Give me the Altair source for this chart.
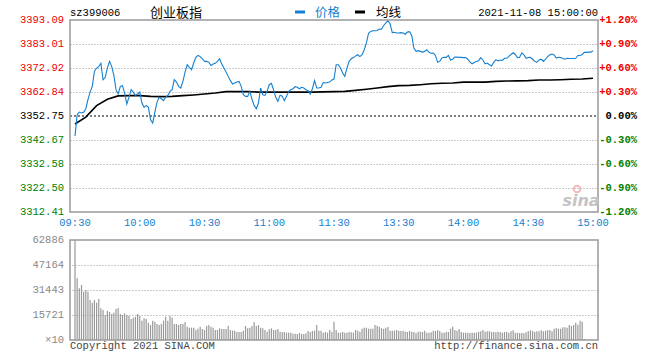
import altair as alt
import pandas as pd

# ---------------- data ----------------
minutes = list(range(241))
prices = [
    3344.3, 3353.3, 3354.4, 3354.0, 3354.3, 3355.8, 3359.6, 3362.8, 3365.2, 3371.5,
    3372.9, 3373.5, 3374.9, 3368.0, 3369.0, 3372.9, 3375.7, 3373.6, 3369.8, 3363.8,
    3362.0, 3365.2, 3365.5, 3362.4, 3357.8, 3360.6, 3363.8, 3362.8, 3361.4, 3362.0,
    3362.8, 3358.2, 3356.4, 3357.2, 3356.4, 3351.2, 3349.8, 3354.4, 3358.6, 3360.6,
    3360.0, 3359.2, 3360.6, 3361.4, 3363.1, 3363.8, 3368.0, 3367.0, 3365.2, 3364.5,
    3367.3, 3371.2, 3374.3, 3373.2, 3372.2, 3375.0, 3377.4, 3378.2, 3377.7, 3376.8,
    3375.7, 3375.7, 3375.4, 3374.0, 3374.6, 3374.9, 3375.7, 3376.8, 3374.6, 3372.9,
    3371.2, 3369.4, 3367.6, 3366.2, 3366.6, 3367.0, 3367.3, 3365.2, 3361.7, 3361.0,
    3361.0, 3363.1, 3359.8, 3357.2, 3355.8, 3358.2, 3364.5, 3361.7, 3361.4, 3363.1,
    3365.9, 3366.5, 3363.8, 3360.6, 3358.9, 3361.5, 3361.1, 3359.2, 3361.0, 3363.1,
    3363.8, 3364.2, 3365.1, 3364.8, 3364.2, 3364.8, 3364.5, 3363.8, 3363.4, 3362.0,
    3364.2, 3367.6, 3364.5, 3364.5, 3364.8, 3366.8, 3366.6, 3366.8, 3367.0, 3367.9,
    3368.3, 3374.3, 3374.3, 3372.9, 3370.8, 3369.4, 3372.9, 3375.7, 3376.8, 3377.3,
    3378.0, 3378.5, 3377.7, 3378.5, 3380.6, 3383.4, 3387.5, 3388.3, 3388.6, 3388.6,
    3388.7, 3389.3, 3389.2, 3390.8, 3391.8, 3392.8, 3391.4, 3387.8, 3387.9, 3387.6,
    3387.6, 3387.8, 3387.6, 3387.1, 3388.0, 3388.2, 3386.6, 3381.3, 3379.9, 3380.2,
    3379.9, 3379.6, 3379.9, 3380.6, 3379.5, 3379.1, 3379.2, 3378.2, 3375.3, 3375.7,
    3377.1, 3377.4, 3377.4, 3378.2, 3376.3, 3376.6, 3377.5, 3377.5, 3377.4, 3377.4,
    3377.3, 3377.3, 3376.6, 3375.4, 3374.7, 3375.2, 3375.7, 3376.0, 3377.3, 3376.3,
    3374.7, 3375.0, 3374.3, 3373.8, 3375.3, 3376.4, 3375.9, 3376.3, 3376.1, 3377.0,
    3377.0, 3377.8, 3378.6, 3379.3, 3378.6, 3377.3, 3377.4, 3379.3, 3378.4, 3377.0,
    3377.3, 3377.4, 3376.6, 3375.7, 3375.3, 3376.3, 3376.6, 3375.7, 3376.6, 3377.7,
    3378.5, 3378.8, 3378.4, 3377.1, 3377.4, 3377.3, 3376.9, 3376.6, 3377.0, 3376.9,
    3376.9, 3376.9, 3377.0, 3378.2, 3378.2, 3378.6, 3379.5, 3379.5, 3379.6, 3379.6,
    3380.2,
]

avg_minutes = list(range(0, 241, 5))
avg_prices = [
    3349.4, 3352.3, 3357.1, 3359.8, 3361.2, 3361.3, 3361.3, 3361.0, 3360.9, 3361.0,
    3361.3, 3361.6, 3362.0, 3362.4, 3363.0, 3363.0, 3363.0, 3362.8, 3362.8, 3362.8,
    3362.8, 3362.8, 3362.8, 3362.9, 3363.0, 3363.1, 3363.5, 3364.0, 3364.5, 3365.1,
    3365.5, 3365.6, 3365.9, 3366.3, 3366.5, 3366.6, 3367.0, 3367.0, 3367.0, 3367.3,
    3367.45, 3367.5, 3367.6, 3367.9, 3367.9, 3368.0, 3368.2, 3368.3, 3368.6,
]

volumes = [62886] + [
    38776, 32488, 34584, 30392, 31440, 30392, 25152, 23475, 25152, 23475,
    25781, 19912, 18864, 15720, 18235, 17606, 16349, 17187, 19493, 20122,
    16349, 15720, 16768, 15720, 15091, 13205, 14043, 14672, 16349, 15091,
    12157, 13624, 13205, 10899, 9432, 12157, 11528, 10061, 9432, 10061,
    12157, 14672, 12157, 15091, 14043, 10061, 10061, 9432, 10061, 10061,
    11318, 8384, 7755, 7755, 7755, 6288, 7126, 8384, 6917, 6288,
    8803, 9432, 8384, 7755, 6288, 6288, 7336, 6917, 6917, 6917,
    8803, 6288, 5869, 5869, 5030, 5030, 5030, 5869, 8803, 7336,
    7755, 8803, 11318, 8803, 9432, 7755, 7336, 6288, 5240, 6707,
    7336, 6288, 6288, 6917, 5240, 5030, 5030, 4611, 4611, 4611,
    3982, 3982, 3773, 4402, 3773, 3773, 4192, 5659, 5030, 5659,
    5869, 9432, 5869, 5869, 4611, 5030, 4611, 6288, 5240,
] + [
    11528, 6288, 4611, 4611, 5030, 4611, 4611, 5030, 4821, 4611,
    6288, 5869, 5240, 7126, 7755, 7755, 7126, 7126, 7126, 9432,
    8803, 8384, 7336, 6917, 7755, 8174, 5869, 5869, 5869, 6288,
    5869, 5659, 5869, 5240, 5030, 5659, 5240, 5030, 4192, 5240,
    5240, 5030, 5869, 4611, 4611, 4821, 5869, 5659, 6078, 5659,
    4611, 4611, 5030, 5030, 7126, 8384, 6288, 5869, 6917, 5030,
    4611, 4611, 4611, 4402, 4611, 4611, 4611, 5240, 5450, 6288,
    5240, 5450, 5450, 5030, 5030, 4821, 5240, 5030, 4611, 5030,
    5030, 4611, 5450, 6078, 4611, 4611, 4402, 4402, 4192, 4821,
    5450, 6078, 5659, 5030, 5450, 5450, 6078, 5450, 5869, 6078,
    6288, 5450, 7126, 7336, 7126, 7126, 7965, 7965, 7755, 9432,
    8803, 9432, 10899, 9642, 12157, 11528, 629,
] + [0, 0, 0, 0]

price_ticks = [3393.09, 3383.01, 3372.92, 3362.84, 3352.75, 3342.67, 3332.58, 3322.50, 3312.41]
pct_labels = ["+1.20%", "+0.90%", "+0.60%", "+0.30%", "0.00%", "-0.30%", "-0.60%", "-0.90%", "-1.20%"]
prev_close = 3352.75
vol_ticks = [62886, 47164, 31443, 15721, 0]
vol_labels = ["62886", "47164", "31443", "15721", "×10"]
time_ticks = [0, 30, 60, 90, 120, 150, 180, 210, 240]
time_labels = ["09:30", "10:00", "10:30", "11:00", "11:30", "13:30", "14:00", "14:30", "15:00"]
grid_price_ticks = [3383.01, 3372.92, 3362.84, 3342.67, 3332.58, 3322.50]
grid_vol_ticks = [47164, 31443, 15721]
grid_time_ticks = [30, 60, 90, 120, 150, 180, 210]

W, H_P, V_TOP, V_BOT = 528, 192, 220, 320
FONT = "Liberation Mono"
BLUE = "#1580d0"
BORDER = "#999999"
GRID = "#999999"

price_df = pd.DataFrame({"m": minutes, "p": prices})
avg_df = pd.DataFrame({"m": avg_minutes, "p": avg_prices})
vol_df = pd.DataFrame({"m": minutes, "v": volumes})
ptick_df = pd.DataFrame({"p": price_ticks, "pct": pct_labels, "lab": [f"{t:.2f}" for t in price_ticks]})
vtick_df = pd.DataFrame({"v": vol_ticks, "lab": vol_labels})
ttick_df = pd.DataFrame({"m": time_ticks, "lab": time_labels})
base_df = pd.DataFrame({"p": [prev_close]})
one = pd.DataFrame({"k": [0]})

xs = alt.Scale(domain=[0, 240], range=[0, W], nice=False, zero=False)
ps = alt.Scale(domain=[price_ticks[-1], price_ticks[0]], range=[H_P, 0], nice=False, zero=False)
vs = alt.Scale(domain=[0, vol_ticks[0]], range=[V_BOT, V_TOP], nice=False, zero=False)

grid_axis = dict(grid=True, gridColor=GRID, gridDash=[1, 2], gridWidth=1, gridOpacity=1,
                 labels=False, ticks=False, domain=False, title=None)

X = lambda: alt.X("m:Q", scale=xs, axis=None)
PY = lambda: alt.Y("p:Q", scale=ps, axis=None)
VY = lambda: alt.Y("v:Q", scale=vs, axis=None)

layers = []

# price line layer carries the x grid and the price y grid (axis grids)
price_layer = alt.Chart(price_df).mark_line(color=BLUE, strokeWidth=1.1).encode(
    x=alt.X("m:Q", scale=xs, axis=alt.Axis(values=grid_time_ticks, orient="bottom", **grid_axis)),
    y=alt.Y("p:Q", scale=ps, axis=alt.Axis(values=grid_price_ticks, orient="left", **grid_axis)),
)
# volume bars carry the volume y grid
vol_layer = alt.Chart(vol_df).mark_bar(color="#999999", size=1.2).encode(
    x=X(),
    y=alt.Y("v:Q", scale=vs, axis=alt.Axis(values=grid_vol_ticks, orient="right", **grid_axis)),
)

# white strip hiding vertical grid between the panels
layers.append(alt.Chart(one).mark_rect(color="#ffffff").encode(
    x=alt.value(-1), x2=alt.value(W + 1), y=alt.value(H_P + 1), y2=alt.value(V_TOP - 1)))

# baseline (previous close)
layers.append(alt.Chart(base_df).mark_rule(color="#000", strokeDash=[2, 2], strokeWidth=1).encode(
    y=PY(), x=alt.value(0), x2=alt.value(W)))

layers.append(vol_layer)
layers.append(alt.Chart(avg_df).mark_line(color="#000000", strokeWidth=1.6).encode(x=X(), y=PY()))
layers.append(price_layer)

# borders
layers.append(alt.Chart(one).mark_rect(fillOpacity=0, stroke=BORDER, strokeWidth=1.5).encode(
    x=alt.value(0), x2=alt.value(W), y=alt.value(0), y2=alt.value(H_P)))
layers.append(alt.Chart(one).mark_rect(fillOpacity=0, stroke=BORDER, strokeWidth=1.5).encode(
    x=alt.value(0), x2=alt.value(W), y=alt.value(V_TOP), y2=alt.value(V_BOT)))

# price labels (left) & pct labels (right)
colexpr = f"datum.p > {prev_close} + 0.01 ? '#ee0000' : (datum.p < {prev_close} - 0.01 ? '#008000' : '#000000')"
layers.append(alt.Chart(ptick_df).transform_calculate(c=colexpr).mark_text(
    align="right", baseline="middle", font=FONT, fontSize=10.5).encode(
    y=PY(), x=alt.value(-6), text="lab:N", color=alt.Color("c:N", scale=None)))
layers.append(alt.Chart(ptick_df).transform_calculate(c=colexpr).mark_text(
    align="right", baseline="middle", font=FONT, fontSize=10.5, fontWeight="bold").encode(
    y=PY(), x=alt.value(567), text="pct:N", color=alt.Color("c:N", scale=None)))

# volume labels
layers.append(alt.Chart(vtick_df).mark_text(align="right", baseline="middle", font=FONT, fontSize=10.5, color="#888888").encode(
    y=VY(), x=alt.value(-6), text="lab:N"))

# time labels
layers.append(alt.Chart(ttick_df).mark_text(align="center", baseline="middle", font=FONT, fontSize=10.5, color=BLUE).encode(
    x=X(), y=alt.value(H_P + 11), text="lab:N"))

# header
def txt(s, x, y, align="left", color="#000", font=FONT, size=10.5, **kw):
    return alt.Chart(one).mark_text(align=align, baseline="middle", font=font, fontSize=size, color=color, **kw).encode(
        x=alt.value(x), y=alt.value(y), text=alt.value(s))

layers.append(txt("sz399006", 0, -7))
layers.append(txt("创业板指", 106, -7, align="center", font="Noto Sans CJK SC", size=13))
layers.append(alt.Chart(one).mark_rule(color=BLUE, strokeWidth=3).encode(
    x=alt.value(225), x2=alt.value(235), y=alt.value(-8)))
layers.append(txt("价格", 245, -7, color=BLUE, font="Noto Sans CJK SC", size=12.5))
layers.append(alt.Chart(one).mark_rule(color="#000", strokeWidth=3).encode(
    x=alt.value(285), x2=alt.value(295), y=alt.value(-8)))
layers.append(txt("均线", 306, -7, font="Noto Sans CJK SC", size=12.5))
layers.append(txt("2021-11-08 15:00:00", W, -7, align="right"))

# footer
layers.append(txt("Copyright 2021 SINA.COM", 0, 326, color="#444444"))
layers.append(txt("http://finance.sina.com.cn", W, 326, align="right", color="#444444"))

# sina watermark
layers.append(txt("sina", 511, 181, align="center", color="#c4c4c4", font="DejaVu Sans", size=16,
                  fontStyle="italic", fontWeight="bold"))
layers.append(alt.Chart(one).mark_point(color="#f2a0a0", size=45, filled=False, strokeWidth=2).encode(
    x=alt.value(507), y=alt.value(169)))

chart = alt.layer(*layers).resolve_scale(y="independent").properties(
    width=W, height=V_BOT,
    autosize=alt.AutoSizeParams(type="none"),
    padding={"left": 70, "top": 20, "right": 62, "bottom": 20},
    background="#ffffff",
).configure_view(stroke=None)

chart.save("out.html", embed_options={"renderer": "svg", "actions": False})
